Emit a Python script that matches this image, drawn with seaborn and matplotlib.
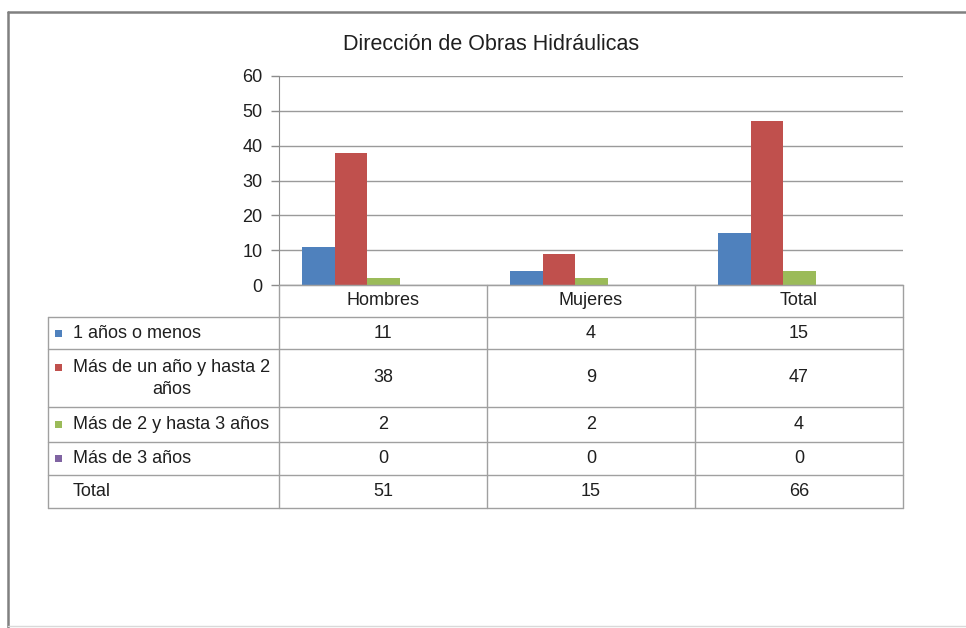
import numpy as np
import pandas as pd
import matplotlib
matplotlib.use("Agg")
import matplotlib.pyplot as plt
from matplotlib.lines import Line2D
from matplotlib.patches import Rectangle
import seaborn as sns

# -------------------- #
# Data
# -------------------- #
categorias = ["Hombres", "Mujeres", "Total"]
series = ["1 años o menos", "Más de un año y hasta 2 años",
          "Más de 2 y hasta 3 años", "Más de 3 años"]
uno_o_menos = [11, 4, 15]
uno_a_dos = [38, 9, 47]
dos_a_tres = [2, 2, 4]
mas_de_tres = [0, 0, 0]
totales = [51, 15, 66]
titulo = "Dirección de Obras Hidráulicas"

colores = ["#4F81BD", "#C0504D", "#9BBB59", "#8064A2"]
valores = [uno_o_menos, uno_a_dos, dos_a_tres, mas_de_tres]

df = pd.DataFrame({
    "categoria": categorias * len(series),
    "serie": np.repeat(series, len(categorias)),
    "valor": np.concatenate(valores),
})

# -------------------- #
# Figure setup
# -------------------- #
sns.set_style("white")
plt.rcParams["font.family"] = ["Liberation Sans", "DejaVu Sans"]
TXT = "#1f1f1f"
LINE = "#a0a0a0"

W, H = 966, 628
fig = plt.figure(figsize=(W / 100, H / 100), dpi=100)


def fx(x):
    return x / W


def fy(y):
    return 1 - y / H


def hline(y, x0, x1, color=LINE, lw=1.0):
    fig.add_artist(Line2D([fx(x0), fx(x1)], [fy(y), fy(y)],
                          transform=fig.transFigure, color=color, lw=lw))


def vline(x, y0, y1, color=LINE, lw=1.0):
    fig.add_artist(Line2D([fx(x), fx(x)], [fy(y0), fy(y1)],
                          transform=fig.transFigure, color=color, lw=lw))


# outer frame
hline(12, 8, W, color="#808080", lw=1.8)
vline(8, 12, H, color="#808080", lw=1.8)
hline(626, 8, W, color="#d9d9d9", lw=1.0)

# -------------------- #
# Bar chart
# -------------------- #
ax_l, ax_r, ax_t, ax_b = 279, 903, 76, 285
ax = fig.add_axes([fx(ax_l), fy(ax_b), fx(ax_r) - fx(ax_l), (ax_b - ax_t) / H])

sns.barplot(data=df, x="categoria", y="valor", hue="serie",
            order=categorias, hue_order=series, palette=colores,
            width=0.625, saturation=1, linewidth=0, errorbar=None,
            legend=False, ax=ax)

# Excel places the group slightly left of the category centre
for p in ax.patches:
    p.set_x(p.get_x() - 0.075)

ax.set_ylim(0, 60)
ax.set_yticks(np.arange(0, 61, 10))
ax.set_xlabel("")
ax.set_ylabel("")
ax.yaxis.grid(True, color="#9a9a9a", lw=1)
ax.set_axisbelow(True)
for s in ["top", "right"]:
    ax.spines[s].set_visible(False)
ax.spines["left"].set_color("#8c8c8c")
ax.spines["bottom"].set_color("#9a9a9a")
ax.tick_params(axis="x", bottom=False, labelbottom=False)
ax.tick_params(axis="y", left=True, length=6, width=1, color="#8c8c8c",
               pad=6, labelsize=13, labelcolor=TXT)

fig.text(fx(491), fy(45), titulo, ha="center", va="center",
         fontsize=15.5, color=TXT)

# -------------------- #
# Data table
# -------------------- #
col_edges = [279, 487, 695, 903]
col_centers = [(a + b) / 2 for a, b in zip(col_edges[:-1], col_edges[1:])]
row_edges = [285, 317, 349, 407, 442, 475, 508]
tab_left = 48

hline(row_edges[0], col_edges[0], col_edges[-1])
for y in row_edges[1:]:
    hline(y, tab_left, col_edges[-1])
for x in col_edges:
    vline(x, row_edges[0], row_edges[-1])
vline(tab_left, row_edges[1], row_edges[-1])

# header
hdr_y = (row_edges[0] + row_edges[1]) / 2
for cx, cat in zip(col_centers, categorias):
    fig.text(fx(cx), fy(hdr_y), cat, ha="center", va="center",
             fontsize=13, color=TXT)

filas = valores + [totales]
for i, fila in enumerate(filas):
    y0, y1 = row_edges[i + 1], row_edges[i + 2]
    yc = (y0 + y1) / 2
    for cx, v in zip(col_centers, fila):
        fig.text(fx(cx), fy(yc), str(v), ha="center", va="center",
                 fontsize=13, color=TXT)
    if i < len(series):
        nombre = series[i]
        if i == 1:
            # wrapped label
            fig.text(fx(73), fy(yc - 11), "Más de un año y hasta 2",
                     ha="left", va="center", fontsize=13, color=TXT)
            fig.text(fx(172), fy(yc + 12), "años", ha="center", va="center",
                     fontsize=13, color=TXT)
            sq_y = yc - 11
        else:
            fig.text(fx(73), fy(yc), nombre, ha="left", va="center",
                     fontsize=13, color=TXT)
            sq_y = yc
        fig.add_artist(Rectangle((fx(55), fy(sq_y + 3.5)), 7 / W, 7 / H,
                                 transform=fig.transFigure,
                                 facecolor=colores[i], edgecolor="none"))
    else:
        fig.text(fx(73), fy(yc), "Total", ha="left", va="center",
                 fontsize=13, color=TXT)

fig.savefig("out.png", dpi=100, facecolor="white")
